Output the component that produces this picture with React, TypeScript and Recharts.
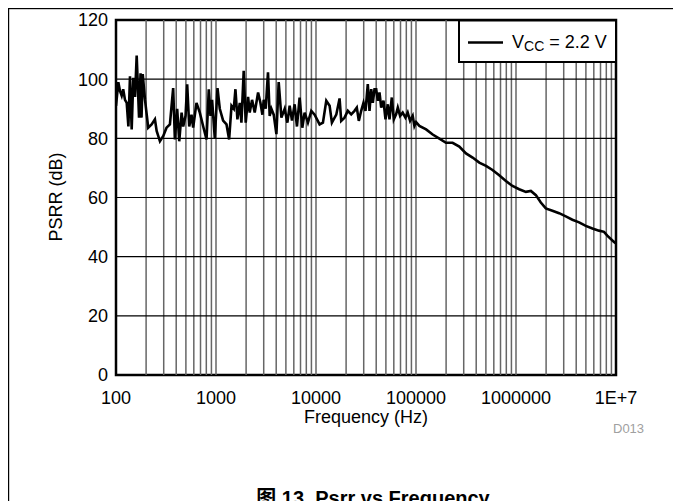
import React from 'react';
import { LineChart, Line, XAxis, YAxis, ReferenceLine, ReferenceArea } from 'recharts';

const frequencyHz = [
  100, 105.5, 109.6, 114, 118, 123, 128, 133, 138, 143.5, 149, 155, 161, 170, 176, 180, 185, 195,
  210, 227, 245, 255, 275, 297, 320, 346, 373, 388, 409, 429, 453, 470, 496, 515, 540, 569, 591,
  638, 689, 745, 804, 847, 881, 914, 973, 1035, 1091, 1178, 1274, 1353, 1429, 1506, 1565, 1637,
  1729, 1796, 1893, 1982, 2093, 2174, 2294, 2439, 2636, 2781, 2911, 3000, 3141, 3311, 3443, 3580,
  3776, 4018, 4236, 4508, 4864, 5173, 5453, 5754, 6115, 6450, 6855, 7295, 7693, 8306, 8974, 9685,
  10865, 11730, 12670, 13680, 14425, 15950, 17210, 17870, 19280, 20810, 22500, 24270, 25590,
  26800, 28310, 29850, 31260, 32960, 34280, 35650, 36980, 38460, 40000, 41500, 43150, 44870,
  47300, 49540, 52240, 54320, 57280, 59980, 63240, 65770, 69340, 73620, 78340, 82600, 87300,
  92680, 96390, 100230, 108100, 126200, 146900, 171400, 199500, 232300, 271000, 316200, 368100,
  429500, 501200, 582100, 679200, 792500, 922600, 1076000, 1256000, 1409000, 1581000, 1771000,
  1987000, 2313000, 2698000, 3148000, 3664000, 4276000, 4989000, 5808000, 6761000, 7586000,
  8184000, 9550000, 10000000,
];

const psrrDb = [
  91, 99, 96, 94.4, 96.6, 93, 92, 84, 101, 83, 100.5, 94, 108, 87, 102, 87, 101.7, 93,
  83.6, 84.7, 86.4, 82.5, 79, 80.8, 83.6, 84.7, 97, 79.6, 90, 79, 88.7, 84, 87.6, 98.3, 84, 88, 83.6,
  92, 88.7, 84, 79.6, 96.6, 87.6, 93, 80, 97, 90, 86, 84.7, 79.6, 91, 90, 96.6, 86.4,
  92, 85.3, 102.8, 85.3, 94, 88.7, 93, 88.7, 95.5, 92, 88, 93, 90, 102.3, 87.6, 90,
  88, 81.4, 99, 87, 90, 85.3, 91, 86, 91.5, 84, 93.8, 83.6, 88.7, 85.3, 89.3, 88,
  84.7, 85.3, 92.7, 91, 85.3, 88, 93.5, 85.9, 87, 89.3, 88.1, 89.3, 90.4,
  85.9, 89.3, 92, 89.3, 98.3, 89.3, 96.6, 92, 96.6, 96.6, 92.7, 95.5, 90.4,
  92.7, 86.4, 91.5, 86.4, 93.8, 86.4, 88.1, 90.4, 87.6, 88.7, 87, 88.7, 85.9,
  87.6, 84.2, 85.5, 84.2, 83, 81.3, 79.9, 78.5, 78.5, 77.2, 74.9, 73.5,
  71.8, 70.7, 69.3, 67.5, 65.6, 63.9, 62.8, 61.9, 62.2, 60.8, 58.3,
  56.3, 55.5, 54.7, 53.6, 52.5, 51.6, 50.4, 49.5, 48.8, 48.4,
  47.1, 45, 44.5,
];

const xTicks = [100, 1000, 10000, 100000, 1000000, 10000000];
const yTicks = [0, 20, 40, 60, 80, 100, 120];
const gridYValues = [20, 40, 60, 80, 100];
const decadeStarts = [100, 1000, 10000, 100000, 1000000];
const gridMultipliers = [1, 2, 3, 4, 5, 6, 7, 8, 9];

const seriesName = 'VCC = 2.2 V';

const data = frequencyHz.map((f, i) => ({ f, psrr: psrrDb[i] }));
const gridXValues: number[] = [];
decadeStarts.forEach((d) => gridMultipliers.forEach((m) => {
  const v = d * m;
  if (v > 100) gridXValues.push(v);
}));

const FONT = '"Liberation Sans", Arial, "Noto Sans CJK SC", sans-serif';
const fmtX = (v: number) => (v >= 10000000 ? '1E+7' : String(v));

export default function App() {
  return (
    <div style={{ position: 'fixed', left: 0, top: 0, width: 673, height: 501, overflow: 'hidden', background: '#fff' }}>
      <div style={{ position: 'absolute', left: 0, top: 0 }}>
        <LineChart width={673} height={501} data={data} margin={{ top: 20, right: 57, left: 0, bottom: 96 }}>
          {gridXValues.map((v) => (
            <ReferenceLine key={'gx' + v} x={v} stroke="#666" strokeWidth={1.5} ifOverflow="hidden" />
          ))}
          {gridYValues.map((v) => (
            <ReferenceLine key={'gy' + v} y={v} stroke="#000" strokeWidth={1.2} />
          ))}
          <XAxis
            dataKey="f"
            type="number"
            scale="log"
            domain={[100, 10000000]}
            ticks={xTicks}
            tickFormatter={fmtX}
            allowDataOverflow
            axisLine={false}
            tickLine={false}
            tickSize={0}
            tickMargin={16}
            height={30}
            tick={{ fill: '#000', fontSize: 18, fontFamily: FONT }}
            interval={0}
          />
          <YAxis
            type="number"
            domain={[0, 120]}
            ticks={yTicks}
            axisLine={false}
            tickLine={false}
            tickSize={0}
            tickMargin={8}
            width={116}
            tick={{ fill: '#000', fontSize: 18, fontFamily: FONT }}
            interval={0}
          />
          <Line
            type="linear"
            dataKey="psrr"
            name={seriesName}
            stroke="#000"
            strokeWidth={2.6}
            dot={false}
            isAnimationActive={false}
          />
          <ReferenceArea x1={100} x2={10000000} y1={0} y2={120} fill="none" stroke="#000" strokeWidth={2.5} />
        </LineChart>
      </div>
      <svg width={673} height={501} style={{ position: 'absolute', left: 0, top: 0, pointerEvents: 'none' }}>
        <rect x={8} y={8} width={665} height={1.2} fill="#000" />
        <rect x={8} y={8} width={1.2} height={493} fill="#000" />
        <rect x={459} y={20.5} width={157} height={41.5} fill="#fff" stroke="#000" strokeWidth={2} />
        <line x1={468} y1={42.5} x2={503} y2={42.5} stroke="#000" strokeWidth={2.4} />
        <text x={512} y={48} fontSize={18} fontFamily={FONT} fill="#000">
          V<tspan fontSize={14} dy={3}>CC</tspan><tspan dy={-3}> = 2.2 V</tspan>
        </text>
        <text x={0} y={0} fontSize={18} fontFamily={FONT} fill="#000" textAnchor="middle"
          transform="translate(62 197) rotate(-90)">PSRR (dB)</text>
        <text x={366} y={423} fontSize={18} fontFamily={FONT} fill="#000" textAnchor="middle">Frequency (Hz)</text>
        <text x={613} y={433} fontSize={13} fontFamily={FONT} fill="#a0a0a0">D013</text>
        <text x={373} y={505} fontSize={20} fontWeight="bold" fontFamily={FONT} fill="#000" textAnchor="middle">图 13. Psrr vs Frequency</text>
      </svg>
    </div>
  );
}
